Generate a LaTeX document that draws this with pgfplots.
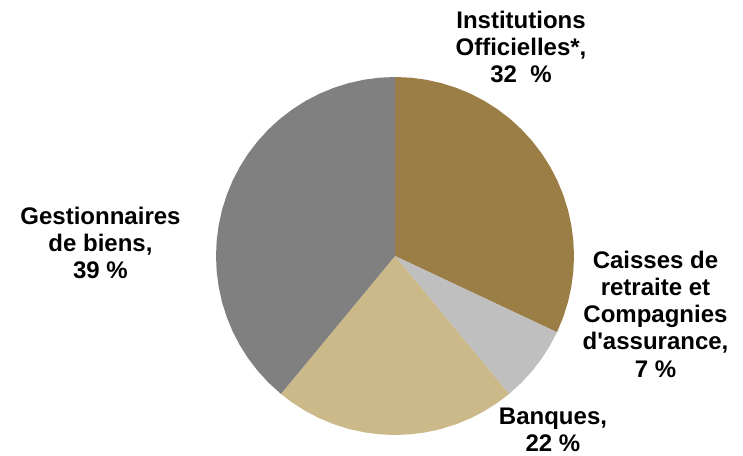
\documentclass[border=0pt]{standalone}
\usepackage{pgfplots}
\pgfplotsset{compat=1.18}
\usepgfplotslibrary{polar}
\usepackage{fontspec}
\setmainfont{Liberation Sans}

\definecolor{gold}{HTML}{9B7D46}
\definecolor{lgray}{HTML}{BFBFBF}
\definecolor{tan}{HTML}{CCB98A}
\definecolor{dgray}{HTML}{808080}

\begin{document}
\begin{tikzpicture}
% shares: 32 %, 7 %, 22 %, 39 %  -> clockwise from 90 deg, 3.6 deg per %
\begin{polaraxis}[
width=179pt,
height=179pt,
scale only axis,
hide axis,
ymin=0,
ymax=1,
clip=false
]
\coordinate (O) at (axis cs:0,0);
% Institutions Officielles, 32 %
\addplot[draw=none, fill=gold] coordinates {
(0,0) (90,1) (85,1) (80,1) (75,1) (70,1) (65,1) (60,1) (55,1) (50,1) (45,1)
(40,1) (35,1) (30,1) (25,1) (20,1) (15,1) (10,1) (5,1) (0,1) (-5,1) (-10,1)
(-15,1) (-20,1) (-25.2,1)
};
% Caisses de retraite et Compagnies d'assurance, 7 %
\addplot[draw=none, fill=lgray] coordinates {
(0,0) (-25.2,1) (-30,1) (-35,1) (-40,1) (-45,1) (-50.4,1)
};
% Banques, 22 %
\addplot[draw=none, fill=tan] coordinates {
(0,0) (-50.4,1) (-55,1) (-60,1) (-65,1) (-70,1) (-75,1) (-80,1) (-85,1) (-90,1)
(-95,1) (-100,1) (-105,1) (-110,1) (-115,1) (-120,1) (-125,1) (-129.6,1)
};
% Gestionnaires de biens, 39 %
\addplot[draw=none, fill=dgray] coordinates {
(0,0) (-129.6,1) (-135,1) (-140,1) (-145,1) (-150,1) (-155,1) (-160,1) (-165,1)
(-170,1) (-175,1) (-180,1) (-185,1) (-190,1) (-195,1) (-200,1) (-205,1) (-210,1)
(-215,1) (-220,1) (-225,1) (-230,1) (-235,1) (-240,1) (-245,1) (-250,1) (-255,1)
(-260,1) (-265,1) (-270,1)
};
\end{polaraxis}
\pgfresetboundingbox
\path[use as bounding box] (O) ++(-197.5pt,-99.5pt) rectangle ++(371.5pt,227.5pt);
\begin{scope}[every node/.style={align=center, font=\fontsize{12}{13.6}\selectfont\bfseries, inner sep=0pt}]
\node at ([shift={(63pt,104.5pt)}]O) {Institutions\\Officielles*,\\32~~\%};
\node at ([shift={(130.25pt,-29pt)}]O) {Caisses de\\retraite et\\Compagnies\\d\textquotesingle assurance,\\7 \%};
\node at ([shift={(79pt,-87pt)}]O) {Banques,\\22 \%};
\node at ([shift={(-147.25pt,6.5pt)}]O) {Gestionnaires\\de biens,\\39 \%};
\end{scope}
\end{tikzpicture}
\end{document}
